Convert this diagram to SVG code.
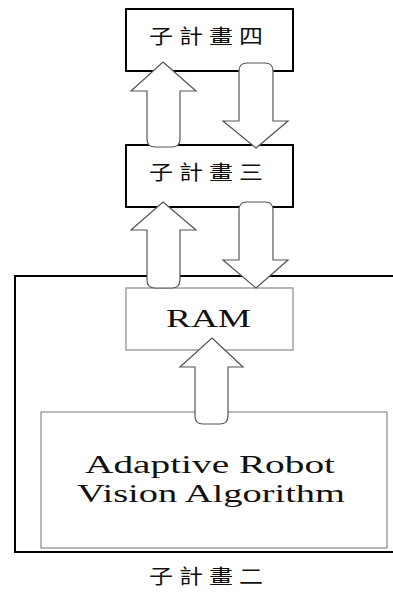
<svg xmlns="http://www.w3.org/2000/svg" width="393" height="593" viewBox="0 0 393 593">
<style>
.bk{fill:#fff;stroke:#000;stroke-width:2}
.gr{fill:#fff;stroke:#8a8a8a;stroke-width:1.2}
.ar{fill:#fff;stroke:#555;stroke-width:1.2;stroke-linejoin:miter}
.cjk{font-family:"Noto Sans CJK TC","Noto Sans CJK SC",sans-serif;font-size:20px;fill:#111;letter-spacing:5px}
.en{font-family:"Liberation Serif",serif;font-size:25px;fill:#111}
</style>
<rect width="393" height="593" fill="#fff"/>
<g id="sub2">
<rect x="15" y="276" width="390" height="276" fill="none" stroke="#000" stroke-width="2"/>
<text class="cjk" transform="translate(149,584) scale(1.2,1)">子計畫二</text>
</g>
<g id="sub4">
<rect class="bk" x="126" y="9" width="167" height="62"/>
<text class="cjk" transform="translate(149,44) scale(1.2,1)">子計畫四</text>
</g>
<g id="sub3">
<rect class="bk" x="126" y="145" width="167" height="62"/>
<text class="cjk" transform="translate(149,180) scale(1.2,1)">子計畫三</text>
</g>
<g id="ram">
<rect class="gr" x="126" y="288" width="167" height="62"/>
<text class="en" x="166" y="327" textLength="85" lengthAdjust="spacingAndGlyphs" style="font-size:26px">RAM</text>
</g>
<g id="algo">
<rect class="gr" x="41" y="412" width="346" height="136"/>
<text class="en" x="85" y="473" textLength="250" lengthAdjust="spacingAndGlyphs">Adaptive Robot</text>
<text class="en" x="77" y="502" textLength="268" lengthAdjust="spacingAndGlyphs">Vision Algorithm</text>
</g>
<g id="connectors">
<path class="ar" d="M163 62 L196 91 L180 91 L180 139 Q180 147 172 147 L155 147 Q147 147 147 139 L147 91 L131 91 Z"/>
<path class="ar" d="M256 148 L288 121 L273 121 L273 71 Q273 63 265 63 L247 63 Q239 63 239 71 L239 121 L223 121 Z"/>
<path class="ar" d="M163 202 L196 230 L180 230 L180 280 Q180 288 172 288 L155 288 Q147 288 147 280 L147 230 L131 230 Z"/>
<path class="ar" d="M256 288 L288 260 L273 260 L273 210 Q273 202 265 202 L247 202 Q239 202 239 210 L239 260 L223 260 Z"/>
<path class="ar" d="M212 338 L243 367 L228 367 L228 416 Q228 424 220 424 L203 424 Q195 424 195 416 L195 367 L180 367 Z"/>
</g>
</svg>
